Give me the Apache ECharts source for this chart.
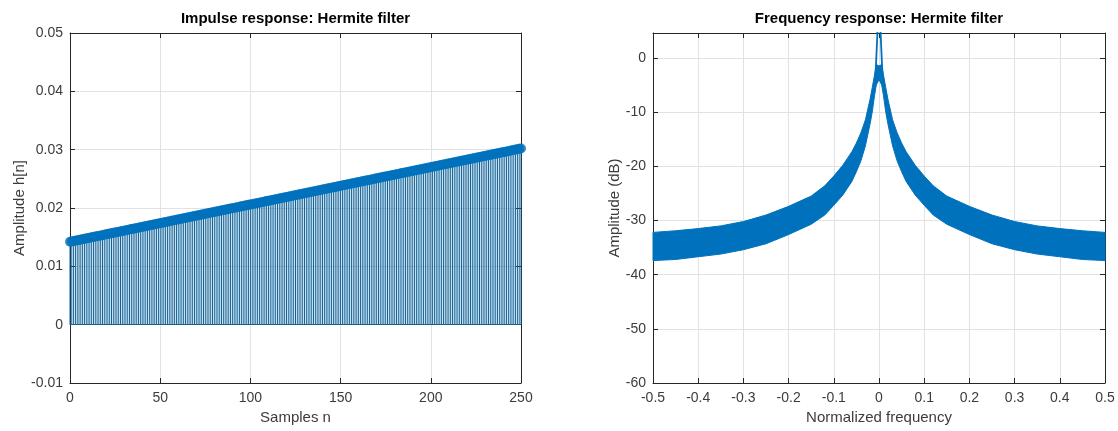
<!DOCTYPE html>
<html>
<head>
<meta charset="utf-8">
<script src="https://cdn.jsdelivr.net/npm/echarts@6/dist/echarts.min.js"></script>
<style>
html,body{margin:0;padding:0;background:#fff;}
#chart{width:1118px;height:431px;}
</style>
</head>
<body>
<div id="chart"></div>
<script>
// ---------- Impulse response data ----------
const impulseTitle = 'Impulse response: Hermite filter';
const impulseXName = 'Samples n';
const impulseYName = 'Amplitude h[n]';
const impulseValues = [
0.01420,0.01426,0.01433,0.01439,0.01446,0.01452,0.01458,0.01465,0.01471,0.01478,
0.01484,0.01490,0.01497,0.01503,0.01510,0.01516,0.01522,0.01529,0.01535,0.01542,
0.01548,0.01554,0.01561,0.01567,0.01574,0.01580,0.01586,0.01593,0.01599,0.01606,
0.01612,0.01618,0.01625,0.01631,0.01638,0.01644,0.01650,0.01657,0.01663,0.01670,
0.01676,0.01682,0.01689,0.01695,0.01702,0.01708,0.01714,0.01721,0.01727,0.01734,
0.01740,0.01746,0.01753,0.01759,0.01766,0.01772,0.01778,0.01785,0.01791,0.01798,
0.01804,0.01810,0.01817,0.01823,0.01830,0.01836,0.01842,0.01849,0.01855,0.01862,
0.01868,0.01874,0.01881,0.01887,0.01894,0.01900,0.01906,0.01913,0.01919,0.01926,
0.01932,0.01938,0.01945,0.01951,0.01958,0.01964,0.01970,0.01977,0.01983,0.01990,
0.01996,0.02002,0.02009,0.02015,0.02022,0.02028,0.02034,0.02041,0.02047,0.02054,
0.02060,0.02066,0.02073,0.02079,0.02086,0.02092,0.02098,0.02105,0.02111,0.02118,
0.02124,0.02130,0.02137,0.02143,0.02150,0.02156,0.02162,0.02169,0.02175,0.02182,
0.02188,0.02194,0.02201,0.02207,0.02214,0.02220,0.02226,0.02233,0.02239,0.02246,
0.02252,0.02258,0.02265,0.02271,0.02278,0.02284,0.02290,0.02297,0.02303,0.02310,
0.02316,0.02322,0.02329,0.02335,0.02342,0.02348,0.02354,0.02361,0.02367,0.02374,
0.02380,0.02386,0.02393,0.02399,0.02406,0.02412,0.02418,0.02425,0.02431,0.02438,
0.02444,0.02450,0.02457,0.02463,0.02470,0.02476,0.02482,0.02489,0.02495,0.02502,
0.02508,0.02514,0.02521,0.02527,0.02534,0.02540,0.02546,0.02553,0.02559,0.02566,
0.02572,0.02578,0.02585,0.02591,0.02598,0.02604,0.02610,0.02617,0.02623,0.02630,
0.02636,0.02642,0.02649,0.02655,0.02662,0.02668,0.02674,0.02681,0.02687,0.02694,
0.02700,0.02706,0.02713,0.02719,0.02726,0.02732,0.02738,0.02745,0.02751,0.02758,
0.02764,0.02770,0.02777,0.02783,0.02790,0.02796,0.02802,0.02809,0.02815,0.02822,
0.02828,0.02834,0.02841,0.02847,0.02854,0.02860,0.02866,0.02873,0.02879,0.02886,
0.02892,0.02898,0.02905,0.02911,0.02918,0.02924,0.02930,0.02937,0.02943,0.02950,
0.02956,0.02962,0.02969,0.02975,0.02982,0.02988,0.02994,0.03001,0.03007,0.03014,
0.03020
];
const impulseXTicks = [0, 50, 100, 150, 200, 250];
const impulseYTicks = [-0.01, 0, 0.01, 0.02, 0.03, 0.04, 0.05];

// ---------- Frequency response data ----------
const freqTitle = 'Frequency response: Hermite filter';
const freqXName = 'Normalized frequency';
const freqYName = 'Amplitude (dB)';
// envelope of the rapidly oscillating magnitude curve
const envFreq = [-0.5,-0.45,-0.4,-0.35,-0.3,-0.25,-0.2,-0.15,-0.12,-0.1,-0.08,-0.06,-0.05,-0.04,-0.03,-0.02,-0.015,-0.01,-0.006,0,
                 0.006,0.01,0.015,0.02,0.03,0.04,0.05,0.06,0.08,0.1,0.12,0.15,0.2,0.25,0.3,0.35,0.4,0.45,0.5];
const upperDb = [-32.2,-31.9,-31.5,-31.0,-30.2,-29.0,-27.4,-25.5,-23.6,-21.8,-19.8,-17.3,-15.7,-13.8,-11.4,-7.7,-5.5,-3.2,-1.2,-1.5,
                 -1.2,-3.2,-5.5,-7.7,-11.4,-13.8,-15.7,-17.3,-19.8,-21.8,-23.6,-25.5,-27.4,-29.0,-30.2,-31.0,-31.5,-31.9,-32.2];
const lowerDb = [-37.4,-37.2,-36.7,-36.2,-35.4,-34.3,-32.6,-30.7,-29.0,-27.2,-25.3,-22.8,-21.0,-19.0,-16.2,-12.3,-10.0,-7.0,-5.0,-4.0,
                 -5.0,-7.0,-10.0,-12.3,-16.2,-19.0,-21.0,-22.8,-25.3,-27.2,-29.0,-30.7,-32.6,-34.3,-35.4,-36.2,-36.7,-37.2,-37.4];
// main lobe spike
const spikeFreq = [-0.008, 0, 0.008];
const spikeDb = [-3.7, 11, -3.7];
const freqXTicks = [-0.5,-0.4,-0.3,-0.2,-0.1,0,0.1,0.2,0.3,0.4,0.5];
const freqYTicks = [-60,-50,-40,-30,-20,-10,0];

// ---------- chart ----------
const FONT = '"Liberation Sans", Arial, Helvetica, sans-serif';
const AX = '#262626';
const LBL = '#3c3c3c';
const GRIDC = '#e2e2e2';
const BLUE = '#0072BD';

function fmt(v){ return String(Math.round(v * 1000) / 1000); }

function mainX(gi, min, max, interval, name){
  return {
    type:'value', gridIndex:gi, min, max, interval, position:'bottom',
    name, nameLocation:'middle', nameGap:27,
    nameTextStyle:{fontFamily:FONT, fontSize:15, color:LBL},
    axisLine:{show:true, onZero:false, lineStyle:{color:AX, width:1}},
    axisTick:{show:true, inside:true, length:5, lineStyle:{color:AX}},
    axisLabel:{show:true, fontFamily:FONT, fontSize:14, color:LBL, margin:8, formatter:fmt, showMinLabel:true, showMaxLabel:true},
    splitLine:{show:true, lineStyle:{color:GRIDC, width:1}}
  };
}
function boxX(gi, min, max, interval){
  return {
    type:'value', gridIndex:gi, min, max, interval, position:'top',
    axisLine:{show:true, onZero:false, lineStyle:{color:AX, width:1}},
    axisTick:{show:true, inside:true, length:5, lineStyle:{color:AX}},
    axisLabel:{show:false}, splitLine:{show:false}
  };
}
function mainY(gi, min, max, interval, name, gap, labFmt){
  return {
    type:'value', gridIndex:gi, min, max, interval, position:'left',
    name, nameLocation:'middle', nameGap:gap,
    nameTextStyle:{fontFamily:FONT, fontSize:15, color:LBL},
    axisLine:{show:true, onZero:false, lineStyle:{color:AX, width:1}},
    axisTick:{show:true, inside:true, length:5, lineStyle:{color:AX}},
    axisLabel:{show:true, fontFamily:FONT, fontSize:14, color:LBL, margin:7, formatter:labFmt},
    splitLine:{show:true, lineStyle:{color:GRIDC, width:1}}
  };
}
function boxY(gi, min, max, interval){
  return {
    type:'value', gridIndex:gi, min, max, interval, position:'right',
    axisLine:{show:true, onZero:false, lineStyle:{color:AX, width:1}},
    axisTick:{show:true, inside:true, length:5, lineStyle:{color:AX}},
    axisLabel:{show:false}, splitLine:{show:false}
  };
}

const impulseData = impulseValues.map((v, i) => [i, v]);
const spikeData = spikeFreq.map((f, i) => [f, spikeDb[i]]);

const chart = echarts.init(document.getElementById('chart'), null, {renderer:'canvas'});
const option = {
  animation:false,
  backgroundColor:'#ffffff',
  graphic:[
    {type:'text', x:295.5, y:19, style:{text:impulseTitle, font:'bold 15px ' + FONT, fill:'#000', textAlign:'center', textVerticalAlign:'middle'}},
    {type:'text', x:879, y:19, style:{text:freqTitle, font:'bold 15px ' + FONT, fill:'#000', textAlign:'center', textVerticalAlign:'middle'}}
  ],
  grid:[
    {left:70, top:33, width:451, height:350},
    {left:653, top:33, width:452, height:350}
  ],
  xAxis:[
    mainX(0, impulseXTicks[0], impulseXTicks[impulseXTicks.length-1], 50, impulseXName),
    boxX(0, impulseXTicks[0], impulseXTicks[impulseXTicks.length-1], 50),
    mainX(1, freqXTicks[0], freqXTicks[freqXTicks.length-1], 0.1, freqXName),
    boxX(1, freqXTicks[0], freqXTicks[freqXTicks.length-1], 0.1)
  ],
  yAxis:[
    mainY(0, impulseYTicks[0], impulseYTicks[impulseYTicks.length-1], 0.01, impulseYName, 42, fmt),
    boxY(0, impulseYTicks[0], impulseYTicks[impulseYTicks.length-1], 0.01),
    mainY(1, freqYTicks[0], 4.6, 10, freqYName, 31, v => (Math.abs(v % 10) < 1e-9 ? String(v) : '')),
    boxY(1, freqYTicks[0], 4.6, 10)
  ],
  series:[
    {
      type:'bar', xAxisIndex:0, yAxisIndex:0, data:impulseData, barWidth:1,
      itemStyle:{color:'#0b6199'}, silent:true,
      markLine:{silent:true, symbol:'none', label:{show:false},
        lineStyle:{color:'#1d5f86', width:1, type:'solid'},
        data:[[{coord:[0,0]},{coord:[impulseValues.length-1,0]}]]}
    },
    {
      type:'scatter', xAxisIndex:0, yAxisIndex:0, data:impulseData,
      symbol:'circle', symbolSize:10, itemStyle:{color:BLUE}, silent:true
    },
    {
      type:'custom', xAxisIndex:2, yAxisIndex:2, data:[[0, 0]], silent:true,
      renderItem:function(params, api){
        const pts = [];
        for (let i = 0; i < envFreq.length; i++) pts.push(api.coord([envFreq[i], upperDb[i]]));
        for (let i = envFreq.length - 1; i >= 0; i--) pts.push(api.coord([envFreq[i], lowerDb[i]]));
        return {type:'polygon', shape:{points:pts}, style:{fill:BLUE, stroke:BLUE, lineWidth:1}};
      }
    },
    {
      type:'line', xAxisIndex:2, yAxisIndex:2, data:spikeData, symbol:'none', clip:true,
      lineStyle:{color:BLUE, width:1.8}, silent:true
    }
  ]
};
chart.setOption(option);
</script>
</body>
</html>
